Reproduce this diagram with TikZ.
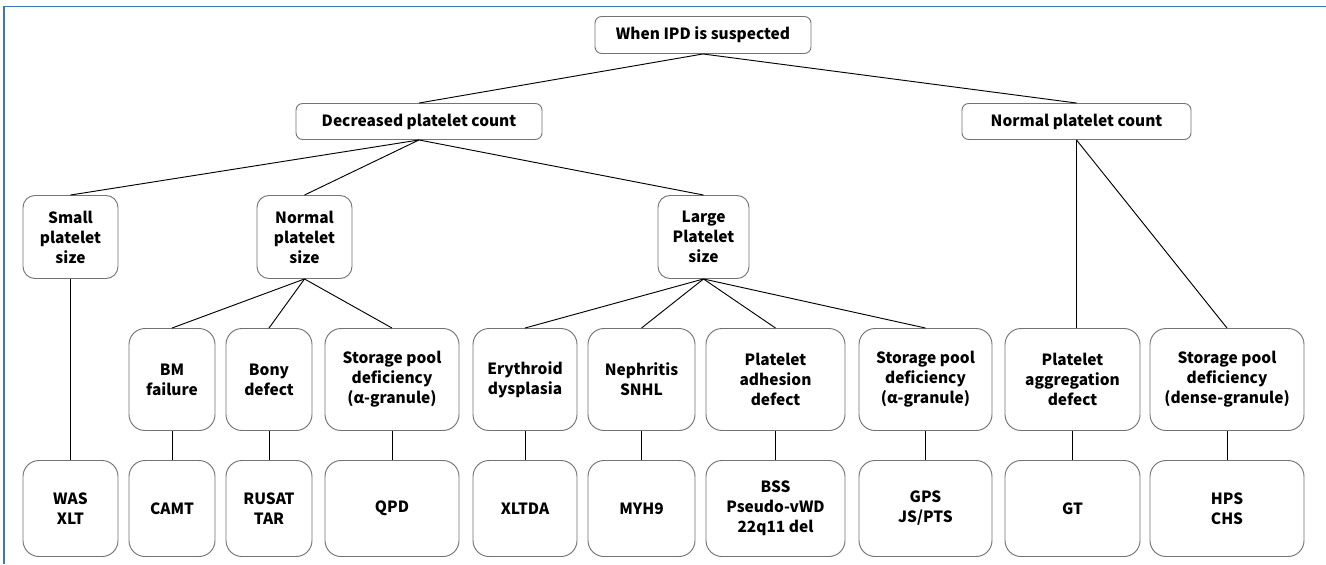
\documentclass[tikz,border=0pt]{standalone}
\usepackage{fontspec}
\setmainfont{Noto Sans CJK KR}
\begin{document}
\begin{tikzpicture}[x=0.75pt,y=-0.75pt,
  box/.style={draw=black!55,line width=0.7pt,fill=white,rounded corners=#1,align=center,
    inner sep=0pt,font=\fontsize{11.6}{15}\selectfont\bfseries},
  box/.default=6pt,
  lnk/.style={draw=black,line width=0.7pt}]
\useasboundingbox (0,0) rectangle (1326,564);
\draw[line width=1.2pt,draw={rgb,255:red,60;green,120;blue,180}] (4,564) -- (4,6.5) -- (1326,6.5);
% level 1-2
\node[box=5pt,minimum width=216*0.75pt,minimum height=37*0.75pt] (root) at (703,35) {When IPD is suspected};
\node[box=5pt,minimum width=246*0.75pt,minimum height=36*0.75pt] (dec) at (419,121.5) {Decreased platelet count};
\node[box=5pt,minimum width=229*0.75pt,minimum height=36*0.75pt] (ncnt) at (1076.5,121.5) {Normal platelet count};
% level 3
\node[box=9pt,minimum width=95*0.75pt,minimum height=83*0.75pt] (small) at (70.5,237) {Small\\platelet\\size};
\node[box=9pt,minimum width=95*0.75pt,minimum height=83*0.75pt] (nsize) at (304.5,237) {Normal\\platelet\\size};
\node[box=9pt,minimum width=91*0.75pt,minimum height=83*0.75pt] (large) at (703.5,237) {Large\\Platelet\\size};
% level 4
\tikzset{l4/.style={box=12pt,minimum width=#1*0.75pt,minimum height=102*0.75pt}}
\node[l4=86] (bm) at (172,379.5) {BM\\failure};
\node[l4=86] (bony) at (269,379.5) {Bony\\defect};
\node[l4=134] (spa) at (392,379.5) {Storage pool\\deficiency\\(α-granule)};
\node[l4=104] (ery) at (525,379.5) {Erythroid\\dysplasia};
\node[l4=107] (neph) at (641.5,379.5) {Nephritis\\SNHL};
\node[l4=139] (adh) at (775.5,379.5) {Platelet\\adhesion\\defect};
\node[l4=133] (spb) at (925.5,379.5) {Storage pool\\deficiency\\(α-granule)};
\node[l4=135] (agg) at (1072.5,379.5) {Platelet\\aggregation\\defect};
\node[l4=154] (spd) at (1227,379.5) {Storage pool\\deficiency\\(dense-granule)};
% level 5
\tikzset{l5/.style={box=12pt,minimum width=#1*0.75pt,minimum height=96*0.75pt}}
\node[l5=95] (was) at (70.5,508.5) {WAS\\XLT};
\node[l5=86] (camt) at (172,508.5) {CAMT};
\node[l5=86] (rusat) at (269,508.5) {RUSAT\\TAR};
\node[l5=134] (qpd) at (392,508.5) {QPD};
\node[l5=104] (xltda) at (525,508.5) {XLTDA};
\node[l5=107] (myh) at (641.5,508.5) {MYH9};
\node[l5=139] (bss) at (775.5,508.5) {BSS\\Pseudo-vWD\\22q11 del};
\node[l5=133] (gps) at (925.5,508.5) {GPS\\JS/PTS};
\node[l5=135] (gt) at (1072.5,508.5) {GT};
\node[l5=154] (hps) at (1227,508.5) {HPS\\CHS};
% connectors
\draw[lnk] (root.south) -- (dec.north);
\draw[lnk] (root.south) -- (ncnt.north);
\draw[lnk] (dec.south) -- (small.north);
\draw[lnk] (dec.south) -- (nsize.north);
\draw[lnk] (dec.south) -- (large.north);
\draw[lnk] (ncnt.south) -- (ncnt.south |- agg.north);
\draw[lnk] (ncnt.south) -- (spd.north);
\draw[lnk] (small.south) -- (was.north);
\draw[lnk] (nsize.south) -- (bm.north);
\draw[lnk] (nsize.south) -- (bony.north);
\draw[lnk] (nsize.south) -- (spa.north);
\draw[lnk] (large.south) -- (ery.north);
\draw[lnk] (large.south) -- (neph.north);
\draw[lnk] (large.south) -- (adh.north);
\draw[lnk] (large.south) -- (spb.north);
\draw[lnk] (bm) -- (camt);
\draw[lnk] (bony) -- (rusat);
\draw[lnk] (spa) -- (qpd);
\draw[lnk] (ery) -- (xltda);
\draw[lnk] (neph) -- (myh);
\draw[lnk] (adh) -- (bss);
\draw[lnk] (spb) -- (gps);
\draw[lnk] (agg) -- (gt);
\draw[lnk] (spd) -- (hps);
\end{tikzpicture}
\end{document}
